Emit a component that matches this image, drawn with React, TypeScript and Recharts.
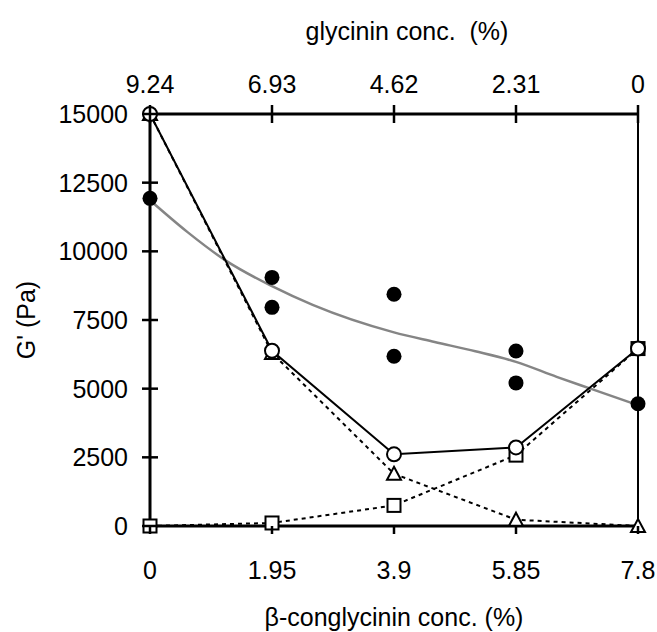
import React from 'react';
import { ComposedChart, Line, Scatter, XAxis, YAxis, ReferenceLine, Label } from 'recharts';

// beta-conglycinin conc. (%) tick values (bottom axis)
const xTicks = [0, 1.95, 3.9, 5.85, 7.8];
// glycinin conc. (%) labels (top axis)
const topTickLabels = ['9.24', '6.93', '4.62', '2.31', '0'];
const yTicks = [0, 2500, 5000, 7500, 10000, 12500, 15000];

// measured G' (filled circles)
const measuredX = [0, 1.95, 1.95, 3.9, 3.9, 5.85, 5.85, 7.8];
const measuredY = [11930, 9050, 7960, 8440, 6180, 6370, 5210, 4450];

// predicted total (open circles, solid line)
const circleY = [15000, 6380, 2610, 2860, 6460];
// glycinin contribution (triangles, dashed)
const triangleY = [15000, 6300, 1900, 230, 0];
// beta-conglycinin contribution (squares, dashed)
const squareY = [0, 110, 750, 2580, 6460];

const fitX = [0, 0.6, 1.2, 1.95, 2.6, 3.9, 4.55, 5.2, 5.85, 6.5, 7.04, 7.8];
const fitY = [11860, 10700, 9680, 8730, 8050, 7050, 6700, 6360, 5975, 5430, 5000, 4400];

const measuredData = measuredX.map((x, i) => ({ x, y: measuredY[i] }));
const circleData = xTicks.map((x, i) => ({ x, y: circleY[i] }));
const triangleData = xTicks.map((x, i) => ({ x, y: triangleY[i] }));
const squareData = xTicks.map((x, i) => ({ x, y: squareY[i] }));
const fitData = fitX.map((x, i) => ({ x, y: fitY[i] }));

const FONT = '"Liberation Sans", Arial, sans-serif';
const FS = 25;

const LeftTick = (props: any) => {
  const { x, y, payload } = props;
  return (
    <g>
      <line x1={x - 8} x2={x + 8} y1={y} y2={y} stroke="#000" strokeWidth={2.5} />
      <text x={x - 22} y={y + 9} textAnchor="end" fontFamily={FONT} fontSize={FS} fill="#000">
        {payload.value}
      </text>
    </g>
  );
};

const BottomTick = (props: any) => {
  const { x, y, payload } = props;
  return (
    <g>
      <line x1={x} x2={x} y1={y} y2={y + 8} stroke="#000" strokeWidth={2.5} />
      <text x={x} y={y + 53} textAnchor="middle" fontFamily={FONT} fontSize={FS} fill="#000">
        {payload.value}
      </text>
    </g>
  );
};

const TopTick = (props: any) => {
  const { x, y, index } = props;
  return (
    <g>
      <line x1={x} x2={x} y1={y - 9} y2={y + 9} stroke="#000" strokeWidth={2.5} />
      <text x={x} y={y - 21} textAnchor="middle" fontFamily={FONT} fontSize={FS} fill="#000">
        {topTickLabels[index]}
      </text>
    </g>
  );
};

const OpenCircle = (props: any) => {
  const { cx, cy } = props;
  if (cx == null || cy == null) return <g />;
  return <circle cx={cx} cy={cy} r={7} fill="#fff" stroke="#000" strokeWidth={2} />;
};

const OpenSquare = (props: any) => {
  const { cx, cy } = props;
  if (cx == null || cy == null) return <g />;
  return <rect x={cx - 6.5} y={cy - 6.5} width={13} height={13} fill="#fff" stroke="#000" strokeWidth={2} />;
};

const OpenTriangle = (props: any) => {
  const { cx, cy } = props;
  if (cx == null || cy == null) return <g />;
  return (
    <path
      d={`M${cx},${cy - 7} L${cx + 7},${cy + 6} L${cx - 7},${cy + 6} Z`}
      fill="#fff"
      stroke="#000"
      strokeWidth={2}
    />
  );
};

const FilledDot = (props: any) => {
  const { cx, cy } = props;
  return <circle cx={cx} cy={cy} r={7.5} fill="#000" />;
};

export default function App() {
  return (
    <div style={{ position: 'absolute', left: 0, top: 0, background: '#fff' }}>
      <ComposedChart
        width={657}
        height={632}
        data={circleData}
        margin={{ top: 0, right: 19, bottom: 0, left: 0 }}
        style={{ fontFamily: FONT }}
      >
        <XAxis
          xAxisId="b"
          dataKey="x"
          type="number"
          domain={[0, 7.8]}
          ticks={xTicks}
          height={106}
          axisLine={{ stroke: '#000', strokeWidth: 3 }}
          tickLine={false}
          tickSize={0}
          tickMargin={0}
          tick={<BottomTick />}
          interval={0}
        >
          <Label
            content={(p: any) => {
              const vb = p.viewBox || { x: 150, y: 526, width: 488, height: 106 };
              return (
                <text x={vb.x + vb.width / 2} y={vb.y + 100} textAnchor="middle" fontFamily={FONT} fontSize={FS} fill="#000">
                  β-conglycinin conc. (%)
                </text>
              );
            }}
          />
        </XAxis>
        <XAxis
          xAxisId="t"
          orientation="top"
          dataKey="x"
          type="number"
          domain={[0, 7.8]}
          ticks={xTicks}
          height={114}
          axisLine={{ stroke: '#000', strokeWidth: 3 }}
          tickLine={false}
          tickSize={0}
          tickMargin={0}
          tick={<TopTick />}
          interval={0}
        >
          <Label
            content={(p: any) => {
              const vb = p.viewBox || { x: 150, y: 0, width: 488, height: 114 };
              return (
                <text x={vb.x + vb.width / 2 + 13} y={vb.y + 40} textAnchor="middle" fontFamily={FONT} fontSize={FS} fill="#000" style={{ whiteSpace: 'pre' }}>
                  {'glycinin conc.  (%)'}
                </text>
              );
            }}
          />
        </XAxis>
        <YAxis
          yAxisId="l"
          type="number"
          domain={[0, 15000]}
          ticks={yTicks}
          width={150}
          axisLine={{ stroke: '#000', strokeWidth: 3 }}
          tickLine={false}
          tickSize={0}
          tickMargin={0}
          tick={<LeftTick />}
          interval={0}
        >
          <Label
            content={(p: any) => {
              const vb = p.viewBox || { x: 0, y: 114, width: 150, height: 412 };
              const cx = vb.x + 35;
              const cy = vb.y + vb.height / 2;
              return (
                <text x={cx} y={cy} transform={`rotate(-90 ${cx} ${cy})`} textAnchor="middle" fontFamily={FONT} fontSize={FS} fill="#000">
                  G' (Pa)
                </text>
              );
            }}
          />
        </YAxis>

        <ReferenceLine xAxisId="b" yAxisId="l" x={7.8} stroke="#000" strokeWidth={2} />

        <Scatter
          xAxisId="b"
          yAxisId="l"
          data={measuredData}
          dataKey="y"
          shape={<FilledDot />}
          isAnimationActive={false}
        />
        <Line
          xAxisId="b"
          yAxisId="l"
          data={fitData}
          dataKey="y"
          type="monotone"
          stroke="#858585"
          strokeWidth={2.5}
          dot={false}
          activeDot={false}
          isAnimationActive={false}
        />
        <Line
          xAxisId="b"
          yAxisId="l"
          data={triangleData}
          dataKey="y"
          type="linear"
          stroke="#000"
          strokeWidth={2}
          strokeDasharray="4 4"
          dot={<OpenTriangle />}
          activeDot={false}
          isAnimationActive={false}
        />
        <Line
          xAxisId="b"
          yAxisId="l"
          data={squareData}
          dataKey="y"
          type="linear"
          stroke="#000"
          strokeWidth={2}
          strokeDasharray="4 4"
          dot={<OpenSquare />}
          activeDot={false}
          isAnimationActive={false}
        />
        <Line
          xAxisId="b"
          yAxisId="l"
          data={circleData}
          dataKey="y"
          type="linear"
          stroke="#000"
          strokeWidth={2}
          dot={<OpenCircle />}
          activeDot={false}
          isAnimationActive={false}
        />
      </ComposedChart>
    </div>
  );
}
